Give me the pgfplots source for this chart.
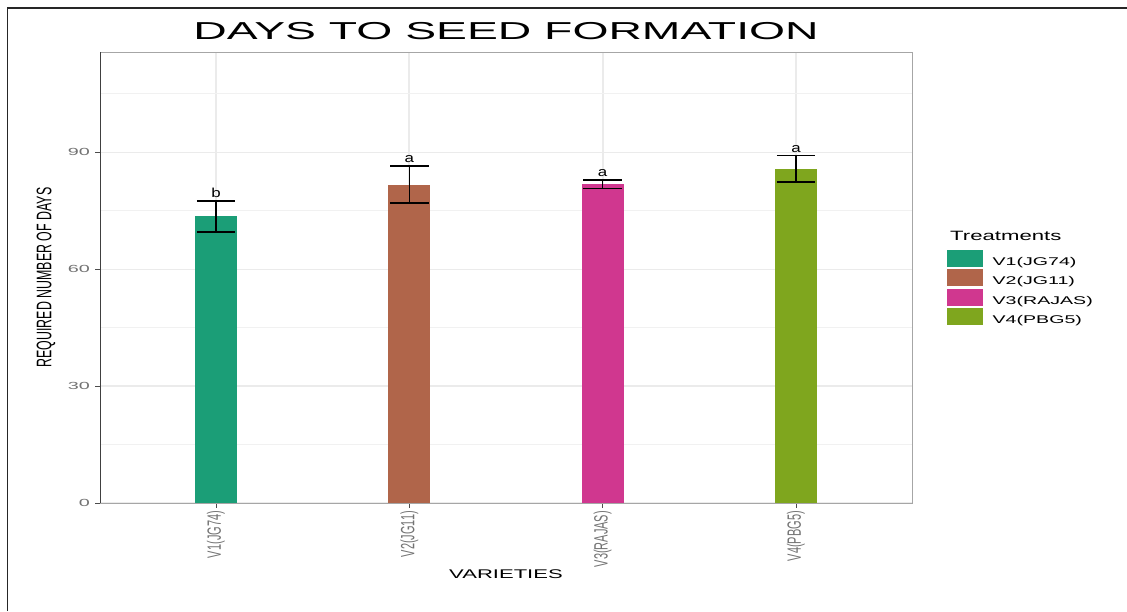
\documentclass[border=0pt]{standalone}
\usepackage{pgfplots}
\pgfplotsset{compat=1.18}
\usepackage{graphicx}
\usepackage{fontspec}
\setmainfont{Liberation Sans}
% the reference is stretched sideways, so text is stretched too
\newcommand{\sx}[2][1.75]{\scalebox{#1}[1]{#2}}
\newcommand{\sy}[2][1.75]{\scalebox{1}[#1]{#2}}
\definecolor{cv1}{HTML}{1B9E77}
\definecolor{cv2}{HTML}{B0654A}
\definecolor{cv3}{HTML}{D0378F}
\definecolor{cv4}{HTML}{7FA61E}
\definecolor{gridc}{HTML}{EBEBEB}
\pgfplotsset{
  varbar/.style={ybar, bar width=0.217, bar shift=0pt, draw=none, fill=#1,
    legend image code/.code={\fill[##1] (0pt,-5pt) rectangle (36pt,12.4pt);},
    error bars/.cd, y dir=both, y explicit,
    error bar style={black, line width=1.6pt},
    error mark options={black, line width=1.6pt, mark size=19.2pt, rotate=90}},
}
\begin{document}
\begin{tikzpicture}
\path[use as bounding box] (0pt,0pt) rectangle (1127pt,611pt);
\draw[black!85, line width=1.3pt] (7.5pt,0pt) -- (7.5pt,603pt) -- (1127pt,603pt);
\begin{axis}[
  at={(100pt,108pt)}, anchor=south west,
  scale only axis, width=812pt, height=451pt,
  xmin=0.4, xmax=4.6, ymin=0, ymax=115.7,
  xtick={1,2,3,4},
  xticklabels={\sy{V1(JG74)},\sy{V2(JG11)},\sy{V3(RAJAS)},\sy{V4(PBG5)}},
  ytick={0,30,60,90},
  yticklabels={\sx[1.92]{0},\sx[1.92]{30},\sx[1.92]{60},\sx[1.92]{90}},
  minor ytick={15,45,75,105},
  xmajorgrids, ymajorgrids, yminorgrids,
  major x grid style={gridc, line width=2.2pt},
  major y grid style={gridc, line width=1.2pt},
  minor y grid style={gridc!70, line width=1pt},
  tick align=outside, xtick pos=left, ytick pos=left,
  major tick length=4.5pt, minor tick length=0pt,
  tick style={black!70, line width=0.8pt},
  axis line style={black!35, line width=0.8pt},
  ticklabel style={font=\fontsize{10.3}{10.3}\selectfont, text=black!55},
  yticklabel style={xshift=-2pt},
  xticklabel style={rotate=90, anchor=east, font=\fontsize{11}{11}\selectfont},
  title={\sx[1.89]{DAYS TO SEED FORMATION}},
  title style={font=\fontsize{24.5}{24.5}\selectfont, anchor=base,
    at={(axis description cs:0.5,1.014)}},
  xlabel={\sx{VARIETIES}},
  xlabel style={font=\fontsize{12.6}{12.6}\selectfont, anchor=base,
    at={(axis description cs:0.5,-0.1685)}},
  ylabel={\sy[1.7]{REQUIRED NUMBER OF DAYS}},
  ylabel style={font=\fontsize{12.4}{12.4}\selectfont, anchor=center,
    at={(axis description cs:-0.0665,0.5)}},
  legend style={draw=none, fill=none, at={(1.0431,0.5625)}, anchor=north west,
    inner sep=0pt, row sep=2.1pt, column sep=9.4pt, nodes={inner sep=0pt},
    font=\fontsize{11.2}{11.2}\selectfont},
  legend cell align=left,
]
\addplot[varbar=cv1] coordinates {(1,73.5) +- (0,4.05)};
\addlegendentry{\sx{V1(JG74)}}
\addplot[varbar=cv2] coordinates {(2,81.7) +- (0,4.8)};
\addlegendentry{\sx{V2(JG11)}}
\addplot[varbar=cv3] coordinates {(3,81.8) +- (0,1.1)};
\addlegendentry{\sx{V3(RAJAS)}}
\addplot[varbar=cv4] coordinates {(4,85.7) +- (0,3.4)};
\addlegendentry{\sx{V4(PBG5)}}
\addplot[draw=none, mark=none, forget plot, point meta=explicit symbolic,
  nodes near coords={\sx[1.3]{\pgfplotspointmeta}},
  nodes near coords style={anchor=base, yshift=3pt, font=\fontsize{13}{13}\selectfont}]
  coordinates {(1,77.6)[b] (2,86.5)[a] (3,82.9)[a] (4,89.1)[a]};
\end{axis}
\draw[black!75, line width=0.9pt] (100pt,108pt) -- (100pt,559pt);
\node[anchor=base west, inner sep=0pt, font=\fontsize{13.5}{13.5}\selectfont]
  at (950pt,370pt) {\sx[1.64]{Treatments}};
\end{tikzpicture}
\end{document}
